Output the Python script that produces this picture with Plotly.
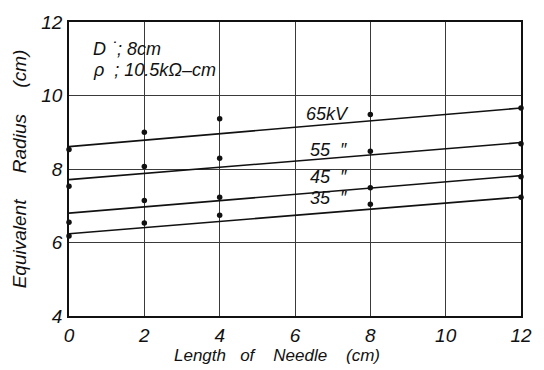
import plotly.graph_objects as go

# Data
needle_len = [0, 2, 4, 8, 12]
meas_65 = [8.53, 9.00, 9.37, 9.48, 9.66]
meas_55 = [7.53, 8.07, 8.29, 8.48, 8.69]
meas_45 = [6.55, 7.14, 7.23, 7.49, 7.79]
meas_35 = [6.18, 6.53, 6.74, 7.04, 7.23]

fit_x = [0, 12]
fit_65 = [8.61, 9.66]
fit_55 = [7.71, 8.72]
fit_45 = [6.80, 7.82]
fit_35 = [6.24, 7.24]

series_labels = ["65kV", "55  \u2033", "45  \u2033", "35  \u2033"]
label_x = [6.85, 6.9, 6.9, 6.9]
label_y = [9.5, 8.52, 7.77, 7.2]

x_ticks = [0, 2, 4, 6, 8, 10, 12]
y_ticks = [4, 6, 8, 10, 12]

FONT = "Liberation Sans Narrow, Liberation Sans, Arial"
ink = "#111111"

fig = go.Figure()
for meas, fit in [(meas_65, fit_65), (meas_55, fit_55), (meas_45, fit_45), (meas_35, fit_35)]:
    fig.add_trace(go.Scatter(x=fit_x, y=fit, mode="lines",
                             line=dict(color=ink, width=1.6), hoverinfo="skip"))
    fig.add_trace(go.Scatter(x=needle_len, y=meas, mode="markers",
                             marker=dict(color=ink, size=5.5), cliponaxis=False))

for txt, lx, ly in zip(series_labels, label_x, label_y):
    fig.add_annotation(x=lx, y=ly, text="<i>" + txt + "</i>", showarrow=False,
                       font=dict(family=FONT, size=18, color=ink),
                       xanchor="center", yanchor="middle")

fig.add_annotation(x=0.58, y=11.27, text="<i>D \u02d9; 8cm</i>", showarrow=False,
                   xanchor="left", yanchor="middle",
                   font=dict(family=FONT, size=18, color=ink))
fig.add_annotation(x=0.58, y=10.7, text="<i>\u03c1  ; 10.5k\u03a9\u2013cm</i>", showarrow=False,
                   xanchor="left", yanchor="middle",
                   font=dict(family=FONT, size=18, color=ink))

fig.add_annotation(xref="paper", yref="paper", x=0.46, y=-0.135,
                   text="<i>Length   of    Needle    (cm)</i>", showarrow=False,
                   xanchor="center", yanchor="middle",
                   font=dict(family=FONT, size=17, color=ink))

axis_common = dict(showgrid=True, gridcolor="#3a3a3a", gridwidth=1,
                   showline=True, linecolor=ink, linewidth=1.5, mirror=True,
                   zeroline=False, ticks="",
                   tickfont=dict(family=FONT, size=19, color=ink, style="italic"))

fig.update_layout(
    width=544, height=370,
    margin=dict(l=69, r=16, t=14, b=54),
    paper_bgcolor="white", plot_bgcolor="white",
    showlegend=False,
    xaxis=dict(range=[0, 12], tickvals=x_ticks,
               ticktext=["<i>%d</i>" % v for v in x_ticks], ticklabelstandoff=1,
               **axis_common),
    yaxis=dict(range=[4, 12], tickvals=y_ticks,
               ticktext=["<i>%d</i>" % v for v in y_ticks], ticklabelstandoff=1,
               title=dict(text="<i>Equivalent     Radius     (cm)</i>", standoff=10,
                          font=dict(family=FONT, size=19, color=ink)),
               **axis_common),
)

fig.write_html("out.html")
